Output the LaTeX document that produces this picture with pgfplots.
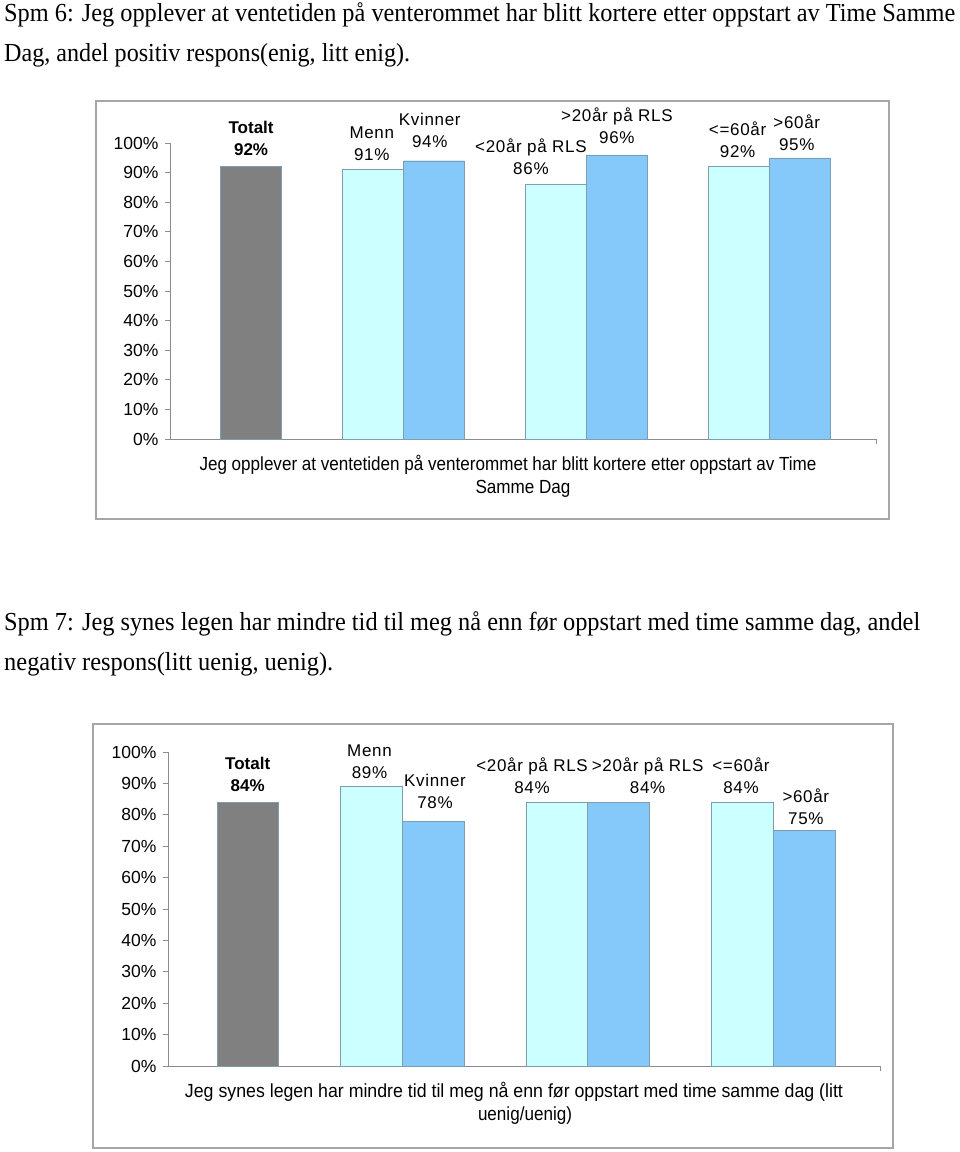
\documentclass[border=0pt]{standalone}
\usepackage{pgfplots}
\pgfplotsset{compat=1.18}
\usepackage{graphicx}
\usepackage{fontspec}
\setmainfont{Liberation Sans}
\newfontfamily\timesf{Liberation Serif}
\newfontfamily\spaced[LetterSpace=4]{Liberation Sans}
\definecolor{bgray}{HTML}{808080}
\definecolor{bcyan}{HTML}{CCFFFF}
\definecolor{bblue}{HTML}{85C8FA}
\definecolor{edgec}{HTML}{7F9DB0}
\definecolor{axc}{HTML}{8C8C8C}
\definecolor{framec}{HTML}{A6A6A6}

\newcommand\lbl{\fontsize{17bp}{22bp}\selectfont}
\newcommand\lblsp{\fontsize{17bp}{22bp}\spaced}
\newcommand\ttl{\fontsize{26bp}{30bp}\timesf}
\newcommand\xl{\fontsize{19bp}{22bp}\selectfont}

\pgfplotsset{
  mychart/.style={
    scale only axis, anchor=south west,
    axis lines*=left,
    axis line style={draw=axc, line width=0.9bp},
    ymin=0, ymax=100,
    ytick={0,10,20,30,40,50,60,70,80,90,100},
    yticklabels={0\%,10\%,20\%,30\%,40\%,50\%,60\%,70\%,80\%,90\%,100\%},
    tick style={draw=axc, line width=0.9bp},
    tick align=outside, major tick length=5bp,
    yticklabel style={font=\fontsize{17.5bp}{20bp}\selectfont, xshift=-3bp},
    xticklabels={},
    clip=false,
  }
}

\begin{document}
\begin{tikzpicture}
\useasboundingbox (0,0) rectangle (960bp,1152bp);
\fill[white] (0,0) rectangle (960bp,1152bp);

% ---------- Titles ----------
\node[anchor=base west, inner sep=0] at (4bp,1130bp) {\resizebox{951bp}{\height}{\ttl Spm 6: Jeg opplever at ventetiden på venterommet har blitt kortere etter oppstart av Time Samme}};
\node[anchor=base west, inner sep=0] at (4bp,1090bp) {\resizebox{406bp}{\height}{\ttl Dag, andel positiv respons(enig, litt enig).}};
\node[anchor=base west, inner sep=0] at (4bp,521bp) {\resizebox{916bp}{\height}{\ttl Spm 7: Jeg synes legen har mindre tid til meg nå enn før oppstart med time samme dag, andel}};
\node[anchor=base west, inner sep=0] at (4bp,481bp) {\resizebox{329bp}{\height}{\ttl negativ respons(litt uenig, uenig).}};

% ---------- Frames ----------
\draw[framec, line width=1.3bp] (96bp,633bp) rectangle (889bp,1051bp);
\draw[framec, line width=1.3bp] (93bp,4bp) rectangle (893bp,428bp);

% ---------- Chart 1 ----------
\begin{axis}[mychart, at={(170bp,713bp)}, width=706bp, height=296bp,
  xmin=-1.33, xmax=10.25, xtick={10.25}]
\addplot[ybar, bar width=1, fill=bgray, draw=edgec] coordinates {(0,92)};
\addplot[ybar, bar width=1, fill=bcyan, draw=edgec] coordinates {(2,91) (5,86) (8,92)};
\addplot[ybar, bar width=1, fill=bblue, draw=edgec] coordinates {(3,94) (6,96) (9,95)};
\node[align=center, font=\lbl] at (axis cs:0,101.4) {\textbf{Totalt}\\\textbf{92\%}};
\node[align=center, font=\lblsp] at (axis cs:1.98,99.7) {Menn\\91\%};
\node[align=center, font=\lblsp] at (axis cs:2.93,104.1) {Kvinner\\94\%};
\node[align=center, font=\lblsp] at (axis cs:4.59,95.3) {<20år på RLS\\86\%};
\node[align=center, font=\lblsp] at (axis cs:6.0,105.7) {>20år på RLS\\96\%};
\node[align=center, font=\lblsp] at (axis cs:7.98,101.0) {<=60år\\92\%};
\node[align=center, font=\lblsp] at (axis cs:8.95,103.4) {>60år\\95\%};
\end{axis}
\node[inner sep=0] at (508bp,687bp) {\resizebox{617bp}{\height}{\xl Jeg opplever at ventetiden på venterommet har blitt kortere etter oppstart av Time}};
\node[inner sep=0] at (523bp,663bp) {\resizebox{95bp}{\height}{\xl Samme Dag}};

% ---------- Chart 2 ----------
\begin{axis}[mychart, at={(168bp,86bp)}, width=712bp, height=314bp,
  xmin=-1.29, xmax=10.23, xtick={10.23}]
\addplot[ybar, bar width=1, fill=bgray, draw=edgec] coordinates {(0,84)};
\addplot[ybar, bar width=1, fill=bcyan, draw=edgec] coordinates {(2,89) (5,84) (8,84)};
\addplot[ybar, bar width=1, fill=bblue, draw=edgec] coordinates {(3,78) (6,84) (9,75)};
\node[align=center, font=\lbl] at (axis cs:0,92.8) {\textbf{Totalt}\\\textbf{84\%}};
\node[align=center, font=\lblsp] at (axis cs:1.97,97.0) {Menn\\89\%};
\node[align=center, font=\lblsp] at (axis cs:3.03,87.4) {Kvinner\\78\%};
\node[align=center, font=\lblsp] at (axis cs:4.6,92.4) {<20år på RLS\\84\%};
\node[align=center, font=\lblsp] at (axis cs:6.47,92.4) {>20år på RLS\\84\%};
\node[align=center, font=\lblsp] at (axis cs:7.98,92.4) {<=60år\\84\%};
\node[align=center, font=\lblsp] at (axis cs:9.03,82.6) {>60år\\75\%};
\end{axis}
\node[inner sep=0] at (514bp,60bp) {\resizebox{658bp}{\height}{\xl Jeg synes legen har mindre tid til meg nå enn før oppstart med time samme dag (litt}};
\node[inner sep=0] at (525bp,36bp) {\resizebox{94bp}{\height}{\xl uenig/uenig)}};
\end{tikzpicture}
\end{document}
